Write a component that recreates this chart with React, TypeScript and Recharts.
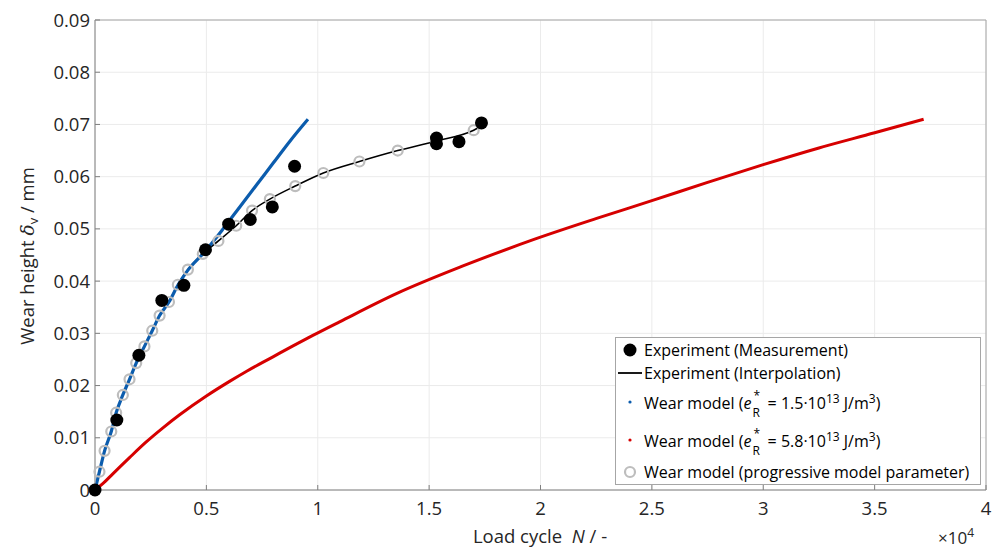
import React from 'react';
import { ComposedChart, Line, XAxis, YAxis, CartesianGrid, ReferenceArea } from 'recharts';

const xTicks = [0, 0.5, 1, 1.5, 2, 2.5, 3, 3.5, 4];
const yTicks = [0, 0.01, 0.02, 0.03, 0.04, 0.05, 0.06, 0.07, 0.08, 0.09];

// Experiment (Measurement), load cycle in 1e4
const measX = [0, 0.098, 0.197, 0.3, 0.399, 0.496, 0.6, 0.697, 0.796, 0.896, 1.533, 1.533, 1.634, 1.735];
const measY = [0, 0.0134, 0.0258, 0.0363, 0.0392, 0.046, 0.0509, 0.0518, 0.0542, 0.062, 0.0674, 0.0663, 0.0667, 0.0703];

// Experiment (Interpolation)
const interpX = [0, 0.02, 0.043, 0.073, 0.095, 0.125, 0.155, 0.185, 0.222, 0.257, 0.29, 0.332, 0.372, 0.417, 0.484, 0.554, 0.634, 0.705, 0.785, 0.899, 1.025, 1.187, 1.359, 1.53, 1.7, 1.735];
const interpY = [0, 0.0035, 0.0075, 0.0112, 0.0148, 0.0182, 0.0212, 0.0243, 0.0275, 0.0305, 0.0334, 0.036, 0.0393, 0.0422, 0.0452, 0.0477, 0.0506, 0.0535, 0.0557, 0.0582, 0.0607, 0.0629, 0.065, 0.0668, 0.0689, 0.0697];

// Wear model e*R = 1.5e13
const blueX = [0, 0.02, 0.043, 0.073, 0.095, 0.125, 0.155, 0.185, 0.222, 0.257, 0.29, 0.332, 0.372, 0.417, 0.49, 0.575, 0.65, 0.725, 0.8, 0.875, 0.956];
const blueY = [0, 0.0035, 0.0075, 0.0112, 0.0148, 0.0182, 0.0212, 0.0243, 0.0275, 0.0305, 0.0334, 0.036, 0.0392, 0.0421, 0.0455, 0.05, 0.0542, 0.0584, 0.0626, 0.0668, 0.071];

// Wear model e*R = 5.8e13
const redX = [0, 0.035, 0.08, 0.155, 0.23, 0.305, 0.38, 0.5, 0.604, 0.679, 0.799, 0.889, 0.978, 1.098, 1.353, 1.652, 1.952, 2.252, 2.5, 2.75, 3.0, 3.25, 3.5, 3.72];
const redY = [0, 0.0012, 0.0031, 0.0062, 0.0092, 0.0119, 0.0144, 0.018, 0.0208, 0.0227, 0.0255, 0.0276, 0.0296, 0.0322, 0.0376, 0.0429, 0.0477, 0.052, 0.0554, 0.0589, 0.0623, 0.0655, 0.0684, 0.071];

// Wear model (progressive model parameter)
const progX = [0.02, 0.043, 0.073, 0.095, 0.125, 0.155, 0.185, 0.222, 0.257, 0.29, 0.332, 0.372, 0.417, 0.484, 0.554, 0.634, 0.705, 0.785, 0.899, 1.025, 1.187, 1.359, 1.53, 1.7];
const progY = [0.0035, 0.0075, 0.0112, 0.0148, 0.0182, 0.0212, 0.0243, 0.0275, 0.0305, 0.0334, 0.036, 0.0393, 0.0422, 0.0452, 0.0477, 0.0506, 0.0535, 0.0557, 0.0582, 0.0607, 0.0629, 0.065, 0.0668, 0.0689];

const zip = (xs: number[], ys: number[]) => xs.map((x, i) => ({ x, y: ys[i] }));

const measData = zip(measX, measY);
const interpData = zip(interpX, interpY);
const blueData = zip(blueX, blueY);
const redData = zip(redX, redY);
const progData = zip(progX, progY);

const FONT = '"Open Sans", "DejaVu Sans", sans-serif';
const TXT = '#262626';
const BLUE = '#0b5cad';
const RED = '#d60000';
const GREY = '#bdbdbd';

const fmtX = (v: number) => String(v);
const fmtY = (v: number) => (v === 0 ? '0' : v.toFixed(2));

const Stack = () => (
  <span style={{ display: 'inline-block', position: 'relative', width: 12, height: 10 }}>
    <span style={{ position: 'absolute', left: 2, top: -12, fontSize: 12 }}>*</span>
    <span style={{ position: 'absolute', left: 1, top: 5, fontSize: 12 }}>R</span>
  </span>
);

const LegendBox = () => {
  const row = (top: number, marker: React.ReactNode, text: React.ReactNode) => (
    <div style={{ position: 'absolute', left: 0, top, height: 24, width: 365, display: 'flex', alignItems: 'center' }}>
      <div style={{ width: 28, display: 'flex', justifyContent: 'center' }}>{marker}</div>
      <div style={{ whiteSpace: 'nowrap' }}>{text}</div>
    </div>
  );
  return (
    <div style={{ position: 'absolute', left: 615, top: 337, width: 364, height: 146, border: '1px solid #a6a6a6', background: '#fff', fontFamily: FONT, fontSize: 16, color: '#000' }}>
      {row(0, <svg width={16} height={16}><circle cx={8} cy={8} r={6.5} fill="#000" /></svg>, 'Experiment (Measurement)')}
      {row(23, <svg width={28} height={4}><line x1={2} y1={2} x2={26} y2={2} stroke="#000" strokeWidth={1.8} /></svg>, 'Experiment (Interpolation)')}
      {row(52, <svg width={6} height={6}><circle cx={3} cy={3} r={1.6} fill={BLUE} /></svg>,
        <span>Wear model (<i>e</i><Stack /> = 1.5·10<sup style={{ fontSize: 12 }}>13</sup> J/m<sup style={{ fontSize: 12 }}>3</sup>)</span>)}
      {row(90, <svg width={6} height={6}><circle cx={3} cy={3} r={1.6} fill={RED} /></svg>,
        <span>Wear model (<i>e</i><Stack /> = 5.8·10<sup style={{ fontSize: 12 }}>13</sup> J/m<sup style={{ fontSize: 12 }}>3</sup>)</span>)}
      {row(122, <svg width={14} height={14}><circle cx={7} cy={7} r={5} fill="none" stroke={GREY} strokeWidth={2.2} /></svg>, 'Wear model (progressive model parameter)')}
    </div>
  );
};

export default function App() {
  const tickStyle = { fill: TXT, fontSize: 18.5, fontFamily: FONT };
  return (
    <div style={{ position: 'absolute', left: 0, top: 0, width: 998, height: 548, background: '#fff', fontFamily: FONT }}>
      <ComposedChart width={998} height={548} margin={{ top: 20, right: 12, bottom: 28, left: 0 }}>
        <CartesianGrid stroke="#ebebeb" strokeWidth={1} />
        <XAxis
          dataKey="x"
          type="number"
          domain={[0, 4]}
          ticks={xTicks}
          interval={0}
          tickFormatter={fmtX}
          tickSize={-5}
          tickMargin={17}
          tickLine={{ stroke: '#7f7f7f' }}
          axisLine={{ stroke: '#a6a6a6' }}
          tick={tickStyle}
          height={30}
        />
        <XAxis
          xAxisId="top"
          orientation="top"
          type="number"
          domain={[0, 4]}
          ticks={xTicks}
          interval={0}
          mirror
          height={0}
          tick={false}
          tickSize={5}
          tickLine={{ stroke: '#7f7f7f' }}
          axisLine={false}
        />
        <YAxis
          dataKey="y"
          type="number"
          domain={[0, 0.09]}
          ticks={yTicks}
          interval={0}
          tickFormatter={fmtY}
          tickSize={-5}
          tickMargin={10}
          tickLine={{ stroke: '#7f7f7f' }}
          axisLine={{ stroke: '#a6a6a6' }}
          tick={tickStyle}
          width={95}
        />
        <YAxis
          yAxisId="right"
          orientation="right"
          type="number"
          domain={[0, 0.09]}
          ticks={yTicks}
          interval={0}
          mirror
          width={0}
          tick={false}
          tickSize={5}
          tickLine={{ stroke: '#7f7f7f' }}
          axisLine={false}
        />
        <ReferenceArea x1={0} x2={4} y1={0} y2={0.09} fill="none" stroke="#a6a6a6" strokeWidth={1} ifOverflow="visible" />
        <Line data={redData} dataKey="y" type="monotone" stroke={RED} strokeWidth={3} dot={false} activeDot={false} isAnimationActive={false} />
        <Line data={interpData} dataKey="y" type="monotone" stroke="#000" strokeWidth={1.6} dot={false} activeDot={false} isAnimationActive={false} />
        <Line data={blueData} dataKey="y" type="monotone" stroke={BLUE} strokeWidth={3.2} dot={false} activeDot={false} isAnimationActive={false} />
        <Line data={progData} dataKey="y" type="linear" stroke="none" dot={{ r: 5, stroke: GREY, strokeWidth: 2.2, fill: 'none' }} activeDot={false} isAnimationActive={false} />
        <Line data={measData} dataKey="y" type="linear" stroke="none" dot={{ r: 6.5, stroke: 'none', fill: '#000' }} activeDot={false} isAnimationActive={false} />
      </ComposedChart>
      <div style={{ position: 'absolute', left: 28, top: 256, transform: 'translate(-50%, -50%) rotate(-90deg)', whiteSpace: 'nowrap', fontSize: 18.5, color: TXT, fontFamily: FONT }}>
        Wear height <i style={{ fontFamily: '"DejaVu Serif", serif' }}>δ</i><sub style={{ fontSize: 13 }}>v</sub> / mm
      </div>
      <div style={{ position: 'absolute', left: 540, top: 525, transform: 'translateX(-50%)', whiteSpace: 'nowrap', fontSize: 18.5, color: TXT, fontFamily: FONT, lineHeight: '22px' }}>
        Load cycle&nbsp; <i>N</i> / -
      </div>
      <div style={{ position: 'absolute', left: 938, top: 522, whiteSpace: 'nowrap', fontSize: 17, color: TXT, fontFamily: FONT, lineHeight: '22px' }}>
        ×10<sup style={{ fontSize: 12 }}>4</sup>
      </div>
      <LegendBox />
    </div>
  );
}
